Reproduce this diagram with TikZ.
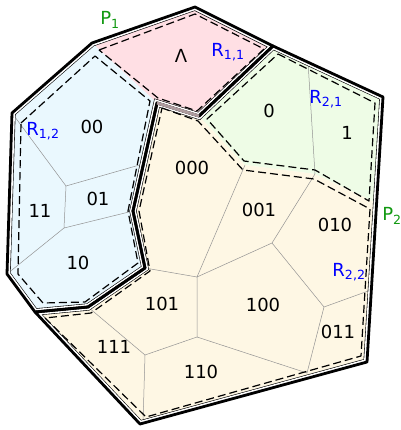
\documentclass[tikz,border=0pt]{standalone}
\usepackage{fontspec}
\setmainfont{DejaVu Sans}
\definecolor{rpink}{HTML}{FFDFE4}
\definecolor{rblue}{HTML}{EAF8FE}
\definecolor{rgreen}{HTML}{EEFCE6}
\definecolor{ryellow}{HTML}{FEF7E4}
\definecolor{pgreen}{HTML}{119911}

\begin{document}
\begin{tikzpicture}[
  x=1pt, y=-1pt,
  cell/.style={draw=gray!85, line width=0.5pt},
  region/.style={draw, dash pattern=on 8pt off 4pt, line width=1.2pt, line join=round},
  poly/.style={draw, line width=2.8pt, line join=round},
  inset/.style={draw, line width=0.6pt, double=white, double distance=6pt},
  lab/.style={font=\fontsize{18}{20}\selectfont, inner sep=0pt},
  rlab/.style={lab, text=blue},
  plab/.style={lab, text=pgreen}
]
\useasboundingbox (0,0) rectangle (400,430);

% corners of P1 and P2
\coordinate (a) at (12,113);
\coordinate (b) at (92,43);
\coordinate (c) at (195,7);
\coordinate (d) at (273,46);
\coordinate (e) at (383,97);
\coordinate (f) at (367,362);
\coordinate (g) at (140,424);
\coordinate (h) at (35,312);
\coordinate (i) at (7,274);
\coordinate (j) at (88,307);
\coordinate (k) at (145,268);
\coordinate (l) at (133,211);
\coordinate (m) at (157,103);
\coordinate (n) at (199,116);
% region corners
\coordinate (o) at (245,165);
\coordinate (p) at (315,174);
\coordinate (q) at (376.6,203);
% cell corners
\coordinate (r) at (197,277);
\coordinate (s) at (272,243);
\coordinate (t) at (324,307);
\coordinate (v) at (197,337);
\coordinate (w) at (307,373);
\coordinate (x) at (145,355);
\coordinate (y) at (66,186);
\coordinate (z) at (64,228);

\fill[rpink] (b) -- (c) -- (d) -- (n) -- (m) -- cycle;
\fill[rblue] (a) -- (b) -- (m) -- (l) -- (k) -- (j) -- (h) -- (i) -- cycle;
\fill[rgreen] (d) -- (e) -- (q) -- (p) -- (o) -- (n) -- cycle;
\fill[ryellow] (m) -- (n) -- (o) -- (p) -- (q) -- (f) -- (g) -- (h) -- (j) -- (k) -- (l) -- cycle;

\draw[cell] (a) -- (y) -- (143,164);
\draw[cell] (y) -- (z) -- (l);
\draw[cell] (z) -- (i);
\draw[cell] (308,62) -- (p);
\draw[cell] (o) -- (r) -- (s) -- (p);
\draw[cell] (s) -- (t) -- (371,290);
\draw[cell] (t) -- (w) -- (v) -- (r) -- (k);
\draw[cell] (v) -- (x) -- (143,423);
\draw[cell] (x) -- (j);

\begin{scope}
  \clip (a) -- (b) -- (c) -- (d) -- (n) -- (m) -- (l) -- (k) -- (j) -- (h) -- (i) -- cycle;
  \draw[inset] (a) -- (b) -- (c) -- (d) -- (n) -- (m) -- (l) -- (k) -- (j) -- (h) -- (i) -- cycle;
\end{scope}
\begin{scope}
  \clip (d) -- (e) -- (f) -- (g) -- (h) -- (j) -- (k) -- (l) -- (m) -- (n) -- cycle;
  \draw[inset] (d) -- (e) -- (f) -- (g) -- (h) -- (j) -- (k) -- (l) -- (m) -- (n) -- cycle;
\end{scope}

\draw[region] (99,50) -- (195,14) -- (264,49) -- (197,111) -- (158,98) -- cycle;
\draw[region] (21,123) -- (95,56) -- (150,101) -- (128,211) -- (138,263) -- (85,302) -- (43,303) -- (18,274) -- cycle;
\draw[region] (278,54) -- (375,103) -- (369,201) -- (315,170) -- (244,161) -- (207,119) -- cycle;
\draw[region] (162,108) -- (198,121) -- (243,170) -- (314,179) -- (370,209) -- (361,356) -- (146,417)
  -- (45,318) -- (91,313) -- (150,271) -- (139,211) -- cycle;

\draw[poly] (a) -- (b) -- (c) -- (d) -- (n) -- (m) -- (l) -- (k) -- (j) -- (h) -- (i) -- cycle;
\draw[poly] (d) -- (e) -- (f) -- (g) -- (h) -- (j) -- (k) -- (l) -- (m) -- (n) -- cycle;
\draw[line width=3pt, rpink!70!gray, opacity=0.8] (m) -- (n);

\node[plab] (P1) at (110,20) {P\textsubscript{1}};
\node[plab] (P2) at (392,216) {P\textsubscript{2}};
\node[rlab] (R11) at (228,52) {R\textsubscript{1,1}};
\node[rlab] (R12) at (43,131) {R\textsubscript{1,2}};
\node[rlab] (R21) at (326,99) {R\textsubscript{2,1}};
\node[rlab] (R22) at (349,272) {R\textsubscript{2,2}};

\node[lab] (empty) at (181,56) {Λ};
\node[lab] (c0) at (269,111) {0};
\node[lab] (c1) at (347,133) {1};
\node[lab] (c00) at (92,127) {00};
\node[lab] (c01) at (98,199) {01};
\node[lab] (c11) at (40,211) {11};
\node[lab] (c10) at (78,263) {10};
\node[lab] (c000) at (192,168) {000};
\node[lab] (c001) at (259,210) {001};
\node[lab] (c010) at (335,225) {010};
\node[lab] (c011) at (338,332) {011};
\node[lab] (c100) at (263,305) {100};
\node[lab] (c101) at (162,304) {101};
\node[lab] (c110) at (201,372) {110};
\node[lab] (c111) at (114,347) {111};
\end{tikzpicture}
\end{document}
